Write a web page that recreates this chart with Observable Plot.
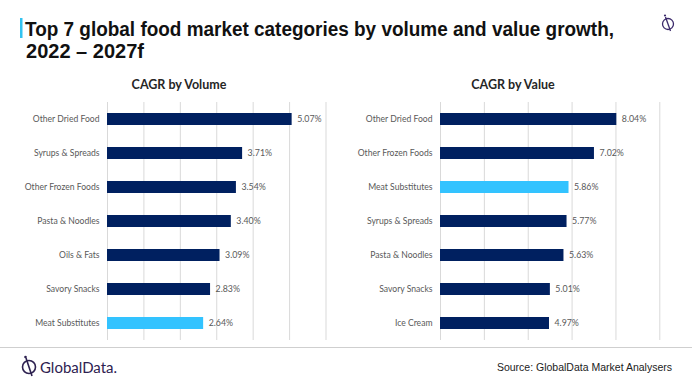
<!DOCTYPE html>
<html>
<head>
<meta charset="utf-8">
<script src="https://cdn.jsdelivr.net/npm/d3@7"></script>
<script src="https://cdn.jsdelivr.net/npm/@observablehq/plot@0.6"></script>
<style>
  html, body { margin: 0; padding: 0; background: #fff; }
  #root { position: relative; width: 692px; height: 389px; overflow: hidden; background: #fff; }
  .abs { position: absolute; }
  .sub { font-family: Lato, "Open Sans", sans-serif; font-weight: 700; font-size: 12.5px; color: #262626; white-space: nowrap; transform: translateX(-50%); }
</style>
</head>
<body>
<div id="root">
  <svg class="abs" style="left:0;top:0" width="692" height="70">
    <rect x="20" y="18" width="2.5" height="20" fill="#33c3f0"></rect>
    <text x="25" y="36" font-family="'Liberation Sans', Arial, sans-serif" font-weight="700" font-size="20" fill="#111" textLength="589" lengthAdjust="spacingAndGlyphs">Top 7 global food market categories by volume and value growth,</text>
    <text x="26" y="58" font-family="'Liberation Sans', Arial, sans-serif" font-weight="700" font-size="20" fill="#111" textLength="118" lengthAdjust="spacingAndGlyphs">2022 – 2027f</text>
    <g transform="translate(668,24)" fill="none" stroke="#3b2a6b" stroke-width="1.3">
      <circle r="5.5"></circle>
      <line x1="-2.5" y1="-7" x2="2.5" y2="7"></line>
    </g>
    <circle cx="665" cy="15.5" r="1.1" fill="#3b2a6b"></circle>
  </svg>
  <div class="abs sub" style="left:179px;top:77px">CAGR by Volume</div>
  <div class="abs sub" style="left:513px;top:77px">CAGR by Value</div>
  <div id="p1" class="abs" style="left:0;top:95px"></div>
  <div id="p2" class="abs" style="left:346px;top:95px"></div>
  <div class="abs" style="left:0;top:347px;width:692px;height:1px;background:#cfcfcf"></div>
  <svg class="abs" style="left:0;top:352px" width="692" height="37">
    <g transform="translate(29,15)" fill="none" stroke="#2d2150" stroke-width="1.6">
      <circle r="6.5"></circle>
      <line x1="-3" y1="-9" x2="3" y2="9"></line>
    </g>
    <circle cx="25.5" cy="5" r="1.3" fill="#2d2150"></circle>
    <text x="40" y="20.5" font-family="Lato, Inter, sans-serif" font-size="15.5" fill="#2d2150" textLength="77" lengthAdjust="spacingAndGlyphs">GlobalData.</text>
    <text x="672" y="19" text-anchor="end" font-family="'Liberation Sans', Arial, sans-serif" font-size="10.5" fill="#222">Source: GlobalData Market Analysers</text>
  </svg>
</div>
<script>
const volCategories = ["Other Dried Food", "Syrups & Spreads", "Other Frozen Foods", "Pasta & Noodles", "Oils & Fats", "Savory Snacks", "Meat Substitutes"];
const volValues = [5.07, 3.71, 3.54, 3.40, 3.09, 2.83, 2.64];
const valCategories = ["Other Dried Food", "Other Frozen Foods", "Meat Substitutes", "Syrups & Spreads", "Pasta & Noodles", "Savory Snacks", "Ice Cream"];
const valValues = [8.04, 7.02, 5.86, 5.77, 5.63, 5.01, 4.97];
const volTicks = [0, 1, 2, 3, 4, 5, 6];
const valTicks = [0, 2, 4, 6, 8, 10];
const highlight = "Meat Substitutes";

const NAVY = "#002060", LIGHT = "#33c3ff";
const fmt = v => d3.format(".2f")(v) + "%";

function chart(cats, vals, ticks, marginLeft, marginRight) {
  const data = cats.map((c, i) => ({cat: c, v: vals[i]}));
  return Plot.plot({
    width: 346,
    height: 250,
    marginTop: 7,
    marginBottom: 5,
    marginLeft,
    marginRight,
    style: {background: "transparent", overflow: "visible"},
    x: {domain: [ticks[0], ticks[ticks.length - 1]], axis: null},
    y: {domain: cats, paddingInner: 0.66, paddingOuter: 0.33, label: null},
    marks: [
      Plot.gridX(ticks, {stroke: "#d9d9d9", strokeOpacity: 1, strokeWidth: 1}),
      Plot.barX(data, {y: "cat", x1: 0, x2: "v", fill: d => d.cat === highlight ? LIGHT : NAVY}),
      Plot.text(data, {y: "cat", x: "v", text: d => fmt(d.v), textAnchor: "start", dx: 5, fontSize: 8.8, fill: "#595959", fontFamily: "Lato, sans-serif"}),
      Plot.axisY({tickSize: 0, tickPadding: 8, fontSize: 8.6, fill: "#595959", fontFamily: "Lato, sans-serif", label: null})
    ]
  });
}

document.getElementById("p1").append(chart(volCategories, volValues, volTicks, 107, 20.5));
document.getElementById("p2").append(chart(valCategories, valValues, valTicks, 94, 32.7));
</script>
</body>
</html>
